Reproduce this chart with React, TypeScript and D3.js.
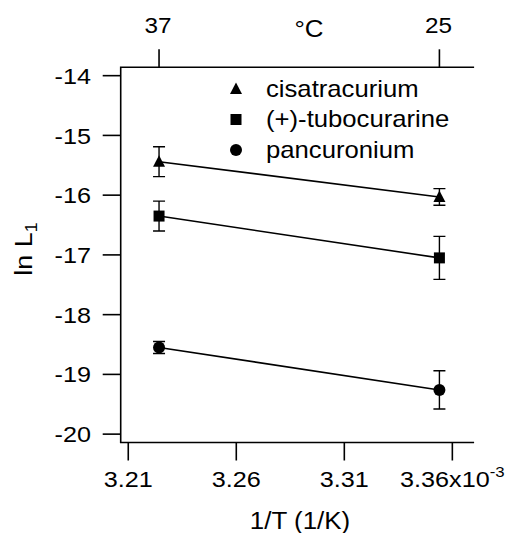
import React, { useEffect, useRef } from "react";
import * as d3 from "d3";

// temperatures (°C) of the two measurements; x is 1000/T in 1/K (x10^-3)
const tempsC = [37, 25];
const xTicks = [3.21, 3.26, 3.31, 3.36];
const yTicks = [-20, -19, -18, -17, -16, -15, -14];

const seriesNames = ["cisatracurium", "(+)-tubocurarine", "pancuronium"];
const seriesShapes = ["triangle", "square", "circle"];
const cisValues = [-15.44, -16.03];
const cisErrors = [0.25, 0.14];
const tubValues = [-16.35, -17.05];
const tubErrors = [0.25, 0.36];
const panValues = [-18.55, -19.26];
const panErrors = [0.1, 0.32];

const W = 508;
const H = 533;
const FONT = "'Liberation Sans', Arial, Helvetica, sans-serif";

const App = () => {
  const svgRef = useRef<SVGSVGElement | null>(null);

  useEffect(() => {
    const svg = d3.select(svgRef.current);
    svg.selectAll("*").remove();

    const left = 120.7, right = 473.3, top = 67.3, bottom = 442.5;
    const x = d3.scaleLinear().domain([3.2065, 3.3697]).range([left, right]);
    const y = d3.scaleLinear().domain([-20.14, -13.86]).range([bottom, top]);
    const invT = (c: number) => 1000 / (c + 273.15);
    const tickLen = 18;

    const series = [
      { values: cisValues, errors: cisErrors },
      { values: tubValues, errors: tubErrors },
      { values: panValues, errors: panErrors },
    ];

    const g = svg.append("g").attr("font-family", FONT).attr("fill", "#000");

    // text is a bit wider than Arial in the original, so stretch it horizontally
    const label = (tx: number, ty: number, size: number, anchor: string, sx = 1.1) =>
      g.append("text")
        .attr("transform", `translate(${tx},${ty}) scale(${sx},1)`)
        .attr("text-anchor", anchor)
        .attr("font-size", size);

    // frame lines: left, bottom, top
    g.append("path")
      .attr("d", `M${left},${bottom}V${top}H${right}M${left},${bottom}H${right}`)
      .attr("fill", "none")
      .attr("stroke", "#000")
      .attr("stroke-width", 1.6)
      .attr("stroke-linecap", "square");

    // left ticks
    yTicks.forEach((t) => {
      g.append("line")
        .attr("x1", left - tickLen).attr("x2", left)
        .attr("y1", y(t)).attr("y2", y(t))
        .attr("stroke", "#000").attr("stroke-width", 1.6);
      label(91, y(t), 22.5, "end", 1.12).attr("dy", "0.36em").text(String(t));
    });

    // bottom ticks
    xTicks.forEach((t, i) => {
      g.append("line")
        .attr("x1", x(t)).attr("x2", x(t))
        .attr("y1", bottom).attr("y2", bottom + tickLen)
        .attr("stroke", "#000").attr("stroke-width", 1.6);
      const txt = label(x(t), 487, 22.5, "middle", 1.12);
      if (i === xTicks.length - 1) {
        txt.append("tspan").text(`${t.toFixed(2)}x10`);
        txt.append("tspan").attr("dy", -10).attr("font-size", 15).text("-3");
      } else {
        txt.text(t.toFixed(2));
      }
    });

    // top ticks (°C)
    tempsC.forEach((c) => {
      g.append("line")
        .attr("x1", x(invT(c))).attr("x2", x(invT(c)))
        .attr("y1", top).attr("y2", top - tickLen)
        .attr("stroke", "#000").attr("stroke-width", 1.6);
      label(x(invT(c)) - 1, 33, 22.5, "middle", 1.08).text(c);
    });
    label(309, 37, 24, "middle", 1.08).text("°C");

    // axis titles
    label((left + right) / 2 + 3, 529, 24, "middle", 1.08).text("1/T (1/K)");
    const yl = g.append("text")
      .attr("transform", "translate(32,249) rotate(-90) scale(1.12,1)")
      .attr("text-anchor", "middle").attr("font-size", 24);
    yl.append("tspan").text("ln L");
    yl.append("tspan").attr("dy", 5).attr("font-size", 16).text("1");

    const symbol = (shape: string, cx: number, cy: number) => {
      if (shape === "triangle") {
        g.append("path")
          .attr("d", `M${cx},${cy - 6.5}L${cx + 6},${cy + 5}L${cx - 6},${cy + 5}Z`)
          .attr("fill", "#000");
      } else if (shape === "square") {
        g.append("rect")
          .attr("x", cx - 5.5).attr("y", cy - 5.5)
          .attr("width", 11).attr("height", 11).attr("fill", "#000");
      } else {
        g.append("circle").attr("cx", cx).attr("cy", cy).attr("r", 6).attr("fill", "#000");
      }
    };

    // series: fit line, error bars, markers
    const line = d3.line<number>()
      .x((_, i) => x(invT(tempsC[i])))
      .y((d) => y(d));
    series.forEach((s, si) => {
      g.append("path")
        .attr("d", line(s.values))
        .attr("fill", "none").attr("stroke", "#000").attr("stroke-width", 1.6);
      s.values.forEach((v, i) => {
        const cx = x(invT(tempsC[i]));
        const y0 = y(v + s.errors[i]);
        const y1 = y(v - s.errors[i]);
        g.append("path")
          .attr("d", `M${cx},${y0}V${y1}M${cx - 6},${y0}H${cx + 6}M${cx - 6},${y1}H${cx + 6}`)
          .attr("fill", "none").attr("stroke", "#000").attr("stroke-width", 1.4);
        symbol(seriesShapes[si], cx, y(v));
      });
    });

    // legend
    seriesNames.forEach((name, i) => {
      const cy = 89 + i * 30.5;
      symbol(seriesShapes[i], 236, cy);
      label(266, cy + 7.5, 24, "start", 1.07).text(name);
    });
  }, []);

  return (
    <div style={{ position: "absolute", left: 0, top: 0, width: W, height: H, background: "#fff" }}>
      <svg ref={svgRef} width={W} height={H} style={{ display: "block" }} />
    </div>
  );
};

export default App;
